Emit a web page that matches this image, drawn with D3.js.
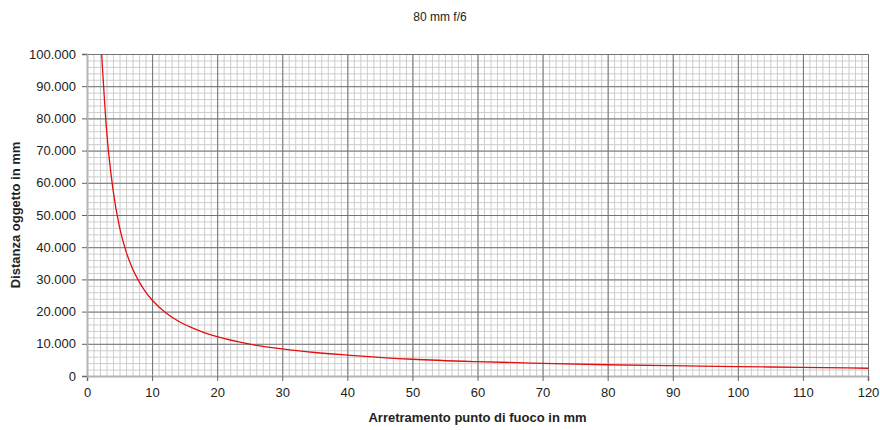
<!DOCTYPE html>
<html><head><meta charset="utf-8">
<script src="https://cdn.jsdelivr.net/npm/d3@7"></script>
<style>body{margin:0;background:#fff;}svg{display:block;font-family:"Liberation Sans",Arial,sans-serif;}</style>
</head><body>
<svg id="c" width="880" height="430"></svg>
<script>
const title = "80 mm f/6";
const xTitle = "Arretramento punto di fuoco in mm";
const yTitle = "Distanza oggetto in mm";
const xTicks = [0,10,20,30,40,50,60,70,80,90,100,110,120];
const yTicks = [0,10000,20000,30000,40000,50000,60000,70000,80000,90000,100000];
const extension = [2.25,3,4,5,6,7,8,9,10,12,14,16,18,20,25,30,35,40,50,60,70,80,90,100,110,120];
const distance = [100000,76500,57800,46200,38700,33300,29300,26100,23600,19800,17100,15100,13500,12200,9900,8400,7300,6500,5200,4450,3950,3500,3200,2900,2700,2400];

const svg = d3.select("#c");
const m = {l:87, r:868, t:54, b:376};
const x = d3.scaleLinear().domain([0,120]).range([m.l, m.r]);
const y = d3.scaleLinear().domain([0,100000]).range([m.b, m.t]);

const minorC = "#cdcdcd", majorC = "#747474";
const g = svg.append("g");
g.selectAll(".vx").data(d3.range(0,121,1)).join("line")
  .attr("x1",d=>x(d)+0.5).attr("x2",d=>x(d)+0.5).attr("y1",m.t).attr("y2",m.b)
  .attr("stroke",minorC);
g.selectAll(".hy").data(d3.range(0,100001,2000)).join("line")
  .attr("x1",m.l).attr("x2",m.r).attr("y1",d=>y(d)+0.5).attr("y2",d=>y(d)+0.5)
  .attr("stroke",minorC);
g.selectAll(".vmaj").data(d3.range(10,121,10)).join("line")
  .attr("x1",d=>x(d)+0.5).attr("x2",d=>x(d)+0.5).attr("y1",m.t).attr("y2",m.b)
  .attr("stroke",majorC);
g.selectAll(".hmaj").data(d3.range(10000,100001,10000)).join("line")
  .attr("x1",m.l).attr("x2",m.r).attr("y1",d=>y(d)+0.5).attr("y2",d=>y(d)+0.5)
  .attr("stroke",majorC);

const fmt = d => d3.format(",")(d).replace(/,/g,".");
const xa = svg.append("g").attr("transform",`translate(0,${m.b})`)
  .call(d3.axisBottom(x).tickValues(xTicks).tickSize(5).tickPadding(7).tickFormat(d3.format("d")));
const ya = svg.append("g").attr("transform",`translate(${m.l},0)`)
  .call(d3.axisLeft(y).tickValues(yTicks).tickSize(5).tickPadding(6).tickFormat(fmt));
[xa,ya].forEach(a=>{
  a.select(".domain").attr("stroke","#b4b4b4").attr("stroke-width",2);
  a.selectAll(".tick line").attr("stroke","#666");
  a.selectAll("text").attr("fill","#222").style("font-size","13px").style("font-family","'Liberation Sans',Arial,sans-serif");
});

const line = d3.line().x((d,i)=>x(extension[i])).y(d=>y(d)).curve(d3.curveMonotoneX);
svg.append("path").datum(distance).attr("d",line).attr("fill","none")
  .attr("stroke","#e01010").attr("stroke-width",1.3);

svg.append("text").attr("x",440).attr("y",21).attr("text-anchor","middle")
  .style("font-size","12px").attr("fill","#222").text(title);
svg.append("text").attr("x",(m.l+m.r)/2).attr("y",422).attr("text-anchor","middle")
  .style("font-size","13px").style("font-weight","bold").attr("fill","#222").text(xTitle);
svg.append("text").attr("transform",`translate(20,${(m.t+m.b)/2}) rotate(-90)`).attr("text-anchor","middle")
  .style("font-size","13px").style("font-weight","bold").attr("fill","#222").text(yTitle);
</script>
</body></html>
